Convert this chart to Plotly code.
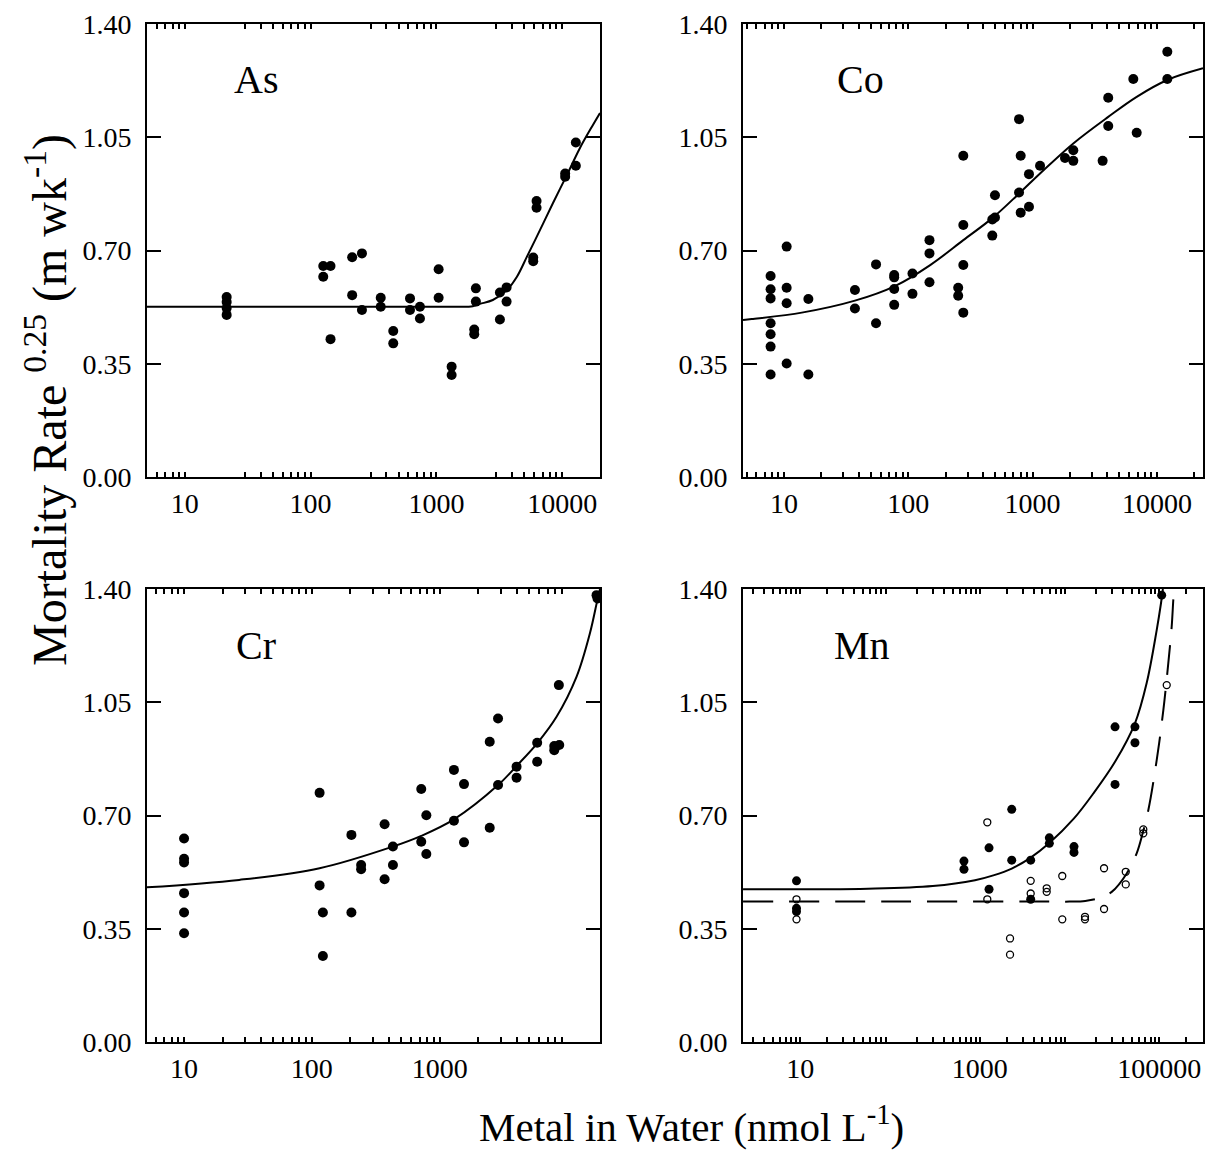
import math
import plotly.graph_objects as go

# ---------------- data ----------------
# As panel
as_x = [21.5, 21.5, 21.5, 21.5, 126, 126, 144, 144, 214, 214, 256, 256, 361, 361,
        454, 454, 617, 617, 740, 740, 1042, 1042, 1322, 1322, 2061, 2061, 2000, 2000,
        3200, 3200, 3615, 3615, 5890, 5890, 6260, 6260, 10570, 10570, 12850, 12850]
as_y = [0.556, 0.541, 0.522, 0.501, 0.652, 0.619, 0.652, 0.426, 0.679, 0.562, 0.691, 0.516,
        0.554, 0.526, 0.451, 0.413, 0.552, 0.516, 0.526, 0.490, 0.642, 0.554, 0.341, 0.315,
        0.583, 0.542, 0.456, 0.441, 0.570, 0.487, 0.586, 0.542, 0.678, 0.667, 0.853, 0.832,
        0.938, 0.928, 1.034, 0.962]
as_fit_x = [5, 100, 1000, 1500, 1950, 2220, 2810, 3640, 4370, 5250, 6660, 8440, 10900,
            13860, 17570, 20000]
as_fit_y = [0.526, 0.526, 0.526, 0.526, 0.528, 0.535, 0.547, 0.578, 0.619, 0.681, 0.763,
            0.846, 0.933, 1.017, 1.088, 1.125]

# Co panel
co_x = [7.8, 7.8, 7.8, 7.8, 7.8, 7.8, 7.8, 10.5, 10.5, 10.5, 10.5, 15.7, 15.7, 37.2, 37.2,
        55, 55, 77, 77, 77, 77, 108, 108, 148, 148, 148, 252, 252, 277, 277, 277, 277,
        474, 474, 498, 498, 778, 778, 802, 802, 935, 935, 1148, 1823, 2126, 2126, 3660,
        4060, 4060, 6460, 6880, 12130, 12130]
co_y = [0.621, 0.580, 0.552, 0.475, 0.441, 0.403, 0.317, 0.712, 0.585, 0.537, 0.351,
        0.550, 0.317, 0.578, 0.521, 0.657, 0.475, 0.624, 0.617, 0.581, 0.532, 0.629, 0.566,
        0.732, 0.691, 0.602, 0.585, 0.560, 0.993, 0.779, 0.655, 0.508, 0.796, 0.746,
        0.871, 0.802, 1.106, 0.879, 0.993, 0.817, 0.936, 0.835, 0.962, 0.986, 1.010, 0.977,
        0.977, 1.172, 1.085, 1.230, 1.064, 1.314, 1.230]
co_fit_x = [4.68, 5.5, 13.9, 37.2, 78, 150, 277, 474, 778, 1148, 2126, 4060, 6880, 12130, 23500]
co_fit_y = [0.485, 0.488, 0.508, 0.545, 0.590, 0.655, 0.732, 0.800, 0.876, 0.938, 1.031,
            1.113, 1.175, 1.227, 1.263]

# Cr panel
cr_x = [10, 10, 10, 10, 10, 10, 115, 115, 122, 122, 204, 204, 243, 243, 371, 371, 431, 431,
        718, 718, 787, 787, 1294, 1294, 1552, 1552, 2466, 2466, 2865, 2865, 4000, 4000,
        5800, 5800, 8570, 7890, 8630, 7890, 16900, 17200]
cr_y = [0.629, 0.566, 0.555, 0.460, 0.400, 0.336, 0.770, 0.484, 0.400, 0.266, 0.640, 0.400,
        0.547, 0.534, 0.673, 0.503, 0.604, 0.547, 0.782, 0.619, 0.701, 0.581, 0.841, 0.684,
        0.797, 0.617, 0.928, 0.662, 1.000, 0.794, 0.851, 0.817, 0.925, 0.866, 1.103, 0.915,
        0.918, 0.902, 1.381, 1.371]
cr_fit_x = [5.13, 27, 115, 431, 718, 1294, 2865, 4000, 5800, 8220, 11800, 15000, 17270, 18000]
cr_fit_y = [0.478, 0.501, 0.537, 0.604, 0.637, 0.688, 0.794, 0.853, 0.923, 1.005, 1.129,
            1.263, 1.371, 1.40]

# Mn panel (filled = one series, open = the other)
mn_fill_x = [9.1, 9.1, 9.1, 668, 668, 1271, 1271, 2275, 2275, 3700, 3700, 5970, 5970,
             11240, 11240, 32200, 32200, 53700, 53700, 106600]
mn_fill_y = [0.498, 0.413, 0.403, 0.559, 0.534, 0.600, 0.472, 0.719, 0.562, 0.562, 0.441,
             0.631, 0.614, 0.604, 0.586, 0.974, 0.796, 0.974, 0.925, 1.381]
mn_open_x = [9.1, 9.1, 1216, 1216, 2178, 2178, 3700, 3700, 5580, 5580, 8320, 8320,
             14900, 14900, 24300, 24300, 42400, 42400, 66500, 66500, 121300]
mn_open_y = [0.441, 0.379, 0.679, 0.441, 0.320, 0.270, 0.498, 0.459, 0.475, 0.464, 0.513,
             0.379, 0.387, 0.379, 0.537, 0.411, 0.526, 0.487, 0.657, 0.645, 1.103]
mn_fit1_x = [2.31, 57, 300, 887, 1419, 2275, 3700, 5970, 11240, 18450, 32200, 53700, 72600,
             93800, 104700, 110000]
mn_fit1_y = [0.472, 0.474, 0.482, 0.500, 0.515, 0.536, 0.570, 0.615, 0.691, 0.768, 0.866,
             0.985, 1.110, 1.273, 1.356, 1.40]
mn_fit2_x = [2.31, 100, 5000, 10000, 15000, 20960, 29580, 43500, 56100, 65400, 75700, 93800,
             111200, 126200, 137700, 143600, 147000]
mn_fit2_y = [0.434, 0.434, 0.434, 0.434, 0.436, 0.444, 0.464, 0.521, 0.583, 0.645, 0.717,
             0.871, 1.026, 1.170, 1.283, 1.366, 1.40]

panel_names = ["As", "Co", "Cr", "Mn"]
y_tickvals = [0.0, 0.35, 0.70, 1.05, 1.40]
y_ticktext = ["0.00", "0.35", "0.70", "1.05", "1.40"]

x_ranges = {"As": [0.699, 4.301], "Co": [0.670, 4.371], "Cr": [0.710, 4.255], "Mn": [0.363, 5.488]}
x_label_vals = {"As": [10, 100, 1000, 10000], "Co": [10, 100, 1000, 10000],
                "Cr": [10, 100, 1000], "Mn": [10, 1000, 100000]}
x_label_text = {"As": ["10", "100", "1000", "10000"], "Co": ["10", "100", "1000", "10000"],
                "Cr": ["10", "100", "1000"], "Mn": ["10", "1000", "100000"]}
x_tall_vals = {"As": [20, 200, 2000, 20000], "Co": [10, 100, 1000, 10000],
               "Cr": [10, 100, 1000, 10000], "Mn": [10, 100, 1000, 10000, 100000]}
x_minor_mult = {"As": range(3, 11), "Co": range(2, 10), "Cr": range(2, 10), "Mn": range(2, 10)}

FONT = "Liberation Serif"
W, H = 1210, 1152
dom_x = {"L": [147 / W, 600 / W], "R": [743 / W, 1203 / W]}
dom_y = {"T": [(H - 477) / H, (H - 24) / H], "B": [(H - 1042) / H, (H - 589) / H]}
placement = {"As": ("L", "T"), "Co": ("R", "T"), "Cr": ("L", "B"), "Mn": ("R", "B")}

fig = go.Figure()

def add_points(i, xs, ys, size=10, open_=False):
    suffix = "" if i == 1 else str(i)
    if open_:
        marker = dict(symbol="circle-open", size=size, color="black", line=dict(width=1.3, color="black"))
    else:
        marker = dict(symbol="circle", size=size, color="black", line=dict(width=0))
    fig.add_trace(go.Scatter(x=xs, y=ys, mode="markers", marker=marker, showlegend=False,
                             xaxis="x" + suffix, yaxis="y" + suffix))

def add_curve(i, xs, ys, dash="solid"):
    suffix = "" if i == 1 else str(i)
    fig.add_trace(go.Scatter(x=xs, y=ys, mode="lines",
                             line=dict(color="black", width=2, dash=dash, shape="spline", smoothing=1.0),
                             showlegend=False, xaxis="x" + suffix, yaxis="y" + suffix))

add_curve(1, as_fit_x, as_fit_y)
add_points(1, as_x, as_y)
add_curve(2, co_fit_x, co_fit_y)
add_points(2, co_x, co_y)
add_curve(3, cr_fit_x, cr_fit_y)
add_points(3, cr_x, cr_y)
add_curve(4, mn_fit1_x, mn_fit1_y)
add_curve(4, mn_fit2_x, mn_fit2_y, dash="30px,16px")
add_points(4, mn_fill_x, mn_fill_y, size=9)
add_points(4, mn_open_x, mn_open_y, size=7, open_=True)

layout = {}
for i, name in enumerate(panel_names, start=1):
    sx = "" if i == 1 else str(i)
    px, py = placement[name]
    lo, hi = x_ranges[name]
    minor_vals = [m * 10 ** e for e in range(0, 6) for m in x_minor_mult[name]
                  if lo <= math.log10(m * 10 ** e) <= hi]
    layout["xaxis" + sx] = dict(
        type="log", range=[lo, hi], domain=dom_x[px], anchor="y" + sx, automargin=False,
        tickmode="array", tickvals=x_label_vals[name], ticktext=x_label_text[name],
        ticks="inside", ticklen=5, tickwidth=1.5, tickcolor="black",
        minor=dict(tickmode="array", tickvals=minor_vals, ticks="inside", ticklen=5,
                   tickwidth=1.5, tickcolor="black", showgrid=False),
        showline=True, linecolor="black", linewidth=2, mirror="allticks",
        showgrid=False, zeroline=False, ticklabelstandoff=0,
        tickfont=dict(family=FONT, size=28, color="black"))
    layout["yaxis" + sx] = dict(
        range=[0, 1.4], domain=dom_y[py], anchor="x" + sx, automargin=False,
        tickmode="array", tickvals=y_tickvals, ticktext=y_ticktext,
        ticks="inside", ticklen=14, tickwidth=2, tickcolor="black",
        showline=True, linecolor="black", linewidth=2, mirror="allticks",
        showgrid=False, zeroline=False, ticklabelstandoff=8,
        tickfont=dict(family=FONT, size=28, color="black"))
    j = i + 4
    layout["xaxis" + str(j)] = dict(
        type="log", range=[lo, hi], overlaying="x" + sx, anchor="y" + sx, automargin=False,
        tickmode="array", tickvals=x_tall_vals[name], showticklabels=False,
        ticks="inside", ticklen=10, tickwidth=2, tickcolor="black",
        showline=False, mirror="allticks", showgrid=False, zeroline=False)

annotations = []
label_pos = {"As": (256, 80), "Co": (860, 80), "Cr": (256, 645), "Mn": (862, 645)}
for name in panel_names:
    ax_, ay_ = label_pos[name]
    annotations.append(dict(text=name, x=ax_ / W, y=1 - ay_ / H, xref="paper", yref="paper",
                            showarrow=False, xanchor="center", yanchor="middle",
                            font=dict(family=FONT, size=40, color="black")))
annotations.append(dict(text="Mortality Rate <sup>0.25</sup> (m wk<sup>-1</sup>)",
                        x=46 / W, y=1 - 400 / H, xref="paper", yref="paper", showarrow=False,
                        textangle=-90, xanchor="center", yanchor="middle",
                        font=dict(family=FONT, size=48, color="black")))
annotations.append(dict(text="Metal in Water (nmol L<sup>-1</sup>)",
                        x=691 / W, y=1 - 1124 / H, xref="paper", yref="paper", showarrow=False,
                        xanchor="center", yanchor="middle",
                        font=dict(family=FONT, size=41, color="black")))

fig.update_layout(template="none", width=W, height=H, margin=dict(l=0, r=0, t=0, b=0, pad=0),
                  paper_bgcolor="white", plot_bgcolor="white", showlegend=False,
                  font=dict(family=FONT, color="black"), annotations=annotations, **layout)

fig.write_html("out.html")
